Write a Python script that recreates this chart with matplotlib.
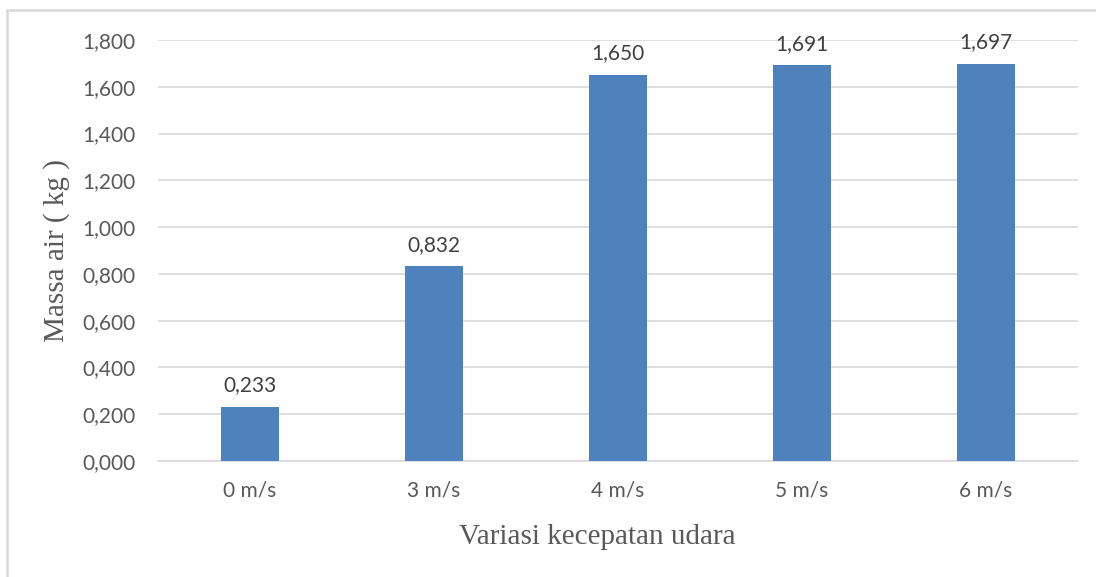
import matplotlib.pyplot as plt
from matplotlib.patches import Rectangle
from matplotlib.ticker import FuncFormatter

# Kecepatan udara dan massa air yang terkumpul
categories = ["0 m/s", "3 m/s", "4 m/s", "5 m/s", "6 m/s"]
massa_air = [0.233, 0.832, 1.650, 1.691, 1.697]
y_ticks = [0.0, 0.2, 0.4, 0.6, 0.8, 1.0, 1.2, 1.4, 1.6, 1.8]


def koma(v, pos=None):
    # format angka dengan koma sebagai pemisah desimal
    return f"{v:.3f}".replace(".", ",")


fig = plt.figure(figsize=(10.96, 5.77), dpi=100)
ax = fig.add_axes([158 / 1096, 1 - 461 / 577, 920 / 1096, 421 / 577])

# bingkai luar grafik
fig.patches.append(Rectangle((7 / 1096, -0.05), 1.1, 1 - 10 / 577 + 0.05,
                             transform=fig.transFigure, fill=False,
                             edgecolor="#D9D9D9", linewidth=1.8))

x = list(range(len(categories)))
bars = ax.bar(x, massa_air, width=0.31, color="#4F81BD", zorder=3)

for b, v in zip(bars, massa_air):
    ax.text(b.get_x() + b.get_width() / 2, v + 0.05, koma(v),
            ha="center", va="bottom", fontsize=15, color="#404040",
            family="Lato")

ax.set_xlim(-0.5, len(categories) - 0.5)
ax.set_ylim(0, 1.8)
ax.set_yticks(y_ticks)
ax.yaxis.set_major_formatter(FuncFormatter(koma))
ax.set_xticks(x)
ax.set_xticklabels(categories)

ax.grid(axis="y", color="#D9D9D9", linewidth=1.2, zorder=0)
for s in ["top", "right", "left"]:
    ax.spines[s].set_visible(False)
ax.spines["bottom"].set_color("#D9D9D9")
ax.spines["bottom"].set_linewidth(1.2)
ax.tick_params(axis="both", length=0, labelsize=15, labelcolor="#595959")
ax.tick_params(axis="y", pad=16)
ax.tick_params(axis="x", pad=14)
for lbl in ax.get_xticklabels() + ax.get_yticklabels():
    lbl.set_family("Lato")

ax.set_xlabel("Variasi kecepatan udara", family="Liberation Serif",
              fontsize=21, color="#595959")
ax.xaxis.set_label_coords(0.478, -0.149)
ax.set_ylabel("Massa air ( kg )", family="Liberation Serif",
              fontsize=21, color="#595959", labelpad=9)

fig.savefig("out.png", dpi=100)
